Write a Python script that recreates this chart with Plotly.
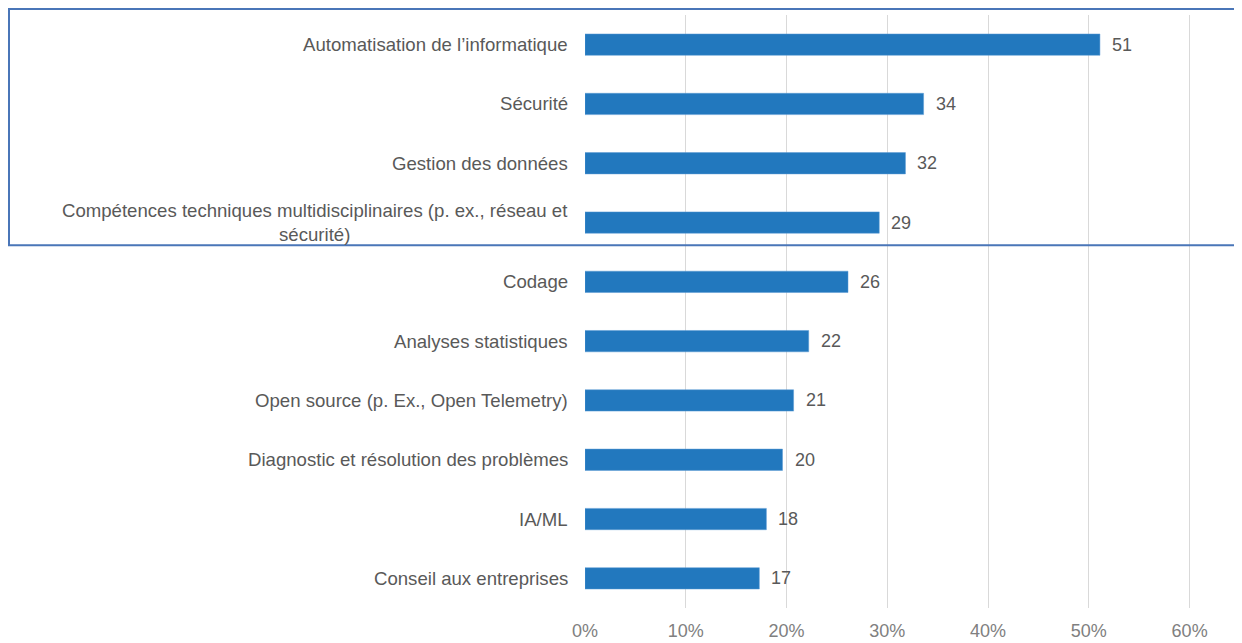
import plotly.graph_objects as go

categories = [
    "Automatisation de l’informatique",
    "Sécurité",
    "Gestion des données",
    "Compétences techniques multidisciplinaires (p. ex., réseau et<br>sécurité)",
    "Codage",
    "Analyses statistiques",
    "Open source (p. Ex., Open Telemetry)",
    "Diagnostic et résolution des problèmes",
    "IA/ML",
    "Conseil aux entreprises",
]
values = [51.1, 33.6, 31.8, 29.2, 26.1, 22.2, 20.7, 19.6, 18.0, 17.3]
labels = [51, 34, 32, 29, 26, 22, 21, 20, 18, 17]
tick_vals = [0, 0.1, 0.2, 0.3, 0.4, 0.5, 0.6]
tick_text = ["0%", "10%", "20%", "30%", "40%", "50%", "60%"]

TEXT = "#595959"
FONT = "Liberation Sans, Arial, sans-serif"

fig = go.Figure(
    go.Bar(
        x=[v / 100 for v in values],
        y=categories,
        orientation="h",
        marker=dict(color="#2278BE", line=dict(color="#5b9bd5", width=0.5)),
        width=0.36,
        hoverinfo="skip",
    )
)

annotations = []
for cat, v, lab in zip(categories, values, labels):
    # value label to the right of the bar
    annotations.append(dict(
        x=v / 100, y=cat, xref="x", yref="y", text=str(lab),
        showarrow=False, xanchor="left", xshift=10,
        font=dict(size=18, color=TEXT, family=FONT),
    ))
    # category label, centred lines, right-anchored
    annotations.append(dict(
        x=0, y=cat, xref="paper", yref="y", text=cat,
        showarrow=False, xanchor="right", xshift=-15, align="center",
        font=dict(size=18.6, color=TEXT, family=FONT),
    ))

# the page has an 8px body margin, so the figure is offset by 8px
fig.update_layout(
    width=1234, height=635,
    margin=dict(l=577, r=2, t=7, b=33),
    paper_bgcolor="white", plot_bgcolor="white",
    showlegend=False,
    font=dict(family=FONT, color=TEXT, size=18),
    annotations=annotations,
    shapes=[dict(
        type="rect", xref="paper", yref="paper",
        x0=(9 - 585) / 655, x1=1.02, y0=(610 - 246) / 595, y1=(610 - 9) / 595,
        line=dict(color="#4a76b8", width=2), fillcolor="rgba(0,0,0,0)",
        layer="above",
    )],
    xaxis=dict(
        range=[0, 0.65], tickvals=tick_vals, ticktext=tick_text,
        showgrid=True, gridcolor="#d9d9d9", gridwidth=1,
        zeroline=False, showline=False, ticks="",
        tickfont=dict(size=18, color="#808080"),
        ticklabelstandoff=10,
    ),
    yaxis=dict(
        autorange="reversed", showticklabels=False, showgrid=False,
        zeroline=False, showline=False, ticks="",
    ),
)

fig.write_html("out.html")
